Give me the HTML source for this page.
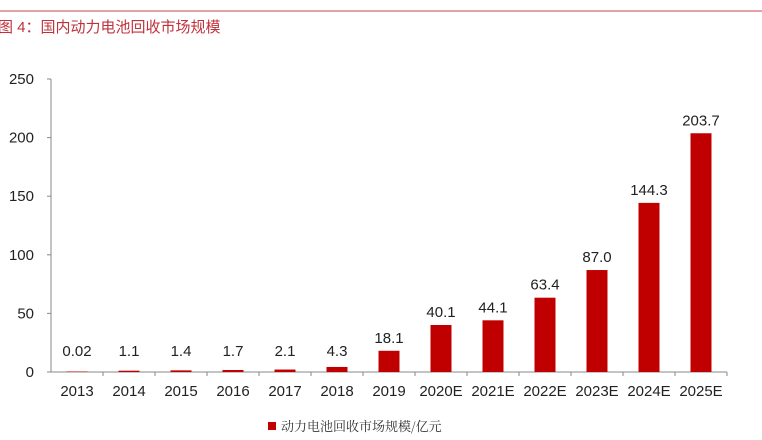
<!DOCTYPE html>
<html><head><meta charset="utf-8"><style>
body{margin:0;background:#fff;width:762px;height:435px;overflow:hidden;font-family:"Liberation Sans","Noto Sans CJK SC",sans-serif}
</style></head><body>
<svg width="762" height="435" xmlns="http://www.w3.org/2000/svg">
<line x1="0" y1="11" x2="762" y2="11" stroke="#d9848a" stroke-width="1.5"/>
<text x="-2" y="32" font-size="15" fill="#c0313b" font-family="Liberation Sans, Noto Sans CJK SC, sans-serif">图 4：国内动力电池回收市场规模</text>
<g id="plot"></g>
<rect x="268" y="422" width="8" height="8" fill="#c00000"/>
<text x="281" y="431" font-size="13" fill="#333" font-family="Noto Serif CJK SC, serif">动力电池回收市场规模/亿元</text>
</svg>
<script>
const categories=["2013","2014","2015","2016","2017","2018","2019","2020E","2021E","2022E","2023E","2024E","2025E"];
const values=[0.02,1.1,1.4,1.7,2.1,4.3,18.1,40.1,44.1,63.4,87.0,144.3,203.7];
const valueLabels=["0.02","1.1","1.4","1.7","2.1","4.3","18.1","40.1","44.1","63.4","87.0","144.3","203.7"];
const yTicks=[0,50,100,150,200,250];
const NS="http://www.w3.org/2000/svg";
const g=document.getElementById('plot');
const x0=51,bw=52,y0=372,yTop=79,ymax=250;
const y=v=>y0-(v/ymax)*(y0-yTop);
const xc=i=>x0+bw*(i+0.5);
function mk(t,a){const e=document.createElementNS(NS,t);for(const k in a)e.setAttribute(k,a[k]);g.appendChild(e);return e;}
let e=mk('line',{x1:x0,y1:yTop,x2:x0,y2:y0,stroke:'#888'});


e=mk('line',{x1:x0,y1:y0,x2:x0+bw*categories.length,y2:y0,stroke:'#888'});


yTicks.forEach(t=>{
 const l=mk('line',{x1:x0-4,y1:y(t),x2:x0,y2:y(t),stroke:'#888'});
 
 
 const tx=mk('text',{x:34,y:y(t)+5,'font-size':15,'text-anchor':'end',fill:'#222'});
 tx.textContent=t;
 
 
});
categories.forEach((c,i)=>{
 const tk=mk('line',{x1:x0+bw*(i+1),y1:y0,x2:x0+bw*(i+1),y2:y0+4,stroke:'#888'});
 
 
 const h=Math.max(y0-y(values[i]),0.5);
 const r=mk('rect',{x:xc(i)-10.5,y:y0-h,width:21,height:h,fill:'#c00000'});
 
 
 const vl=mk('text',{x:xc(i),y:Math.min(y(values[i]),y0-8)-8,'font-size':15,'text-anchor':'middle',fill:'#222'});
 vl.textContent=valueLabels[i];
 
 
 const cl=mk('text',{x:xc(i),y:396,'font-size':15,'text-anchor':'middle',fill:'#222'});
 cl.textContent=c;
 
 
});
</script>
</body></html>
